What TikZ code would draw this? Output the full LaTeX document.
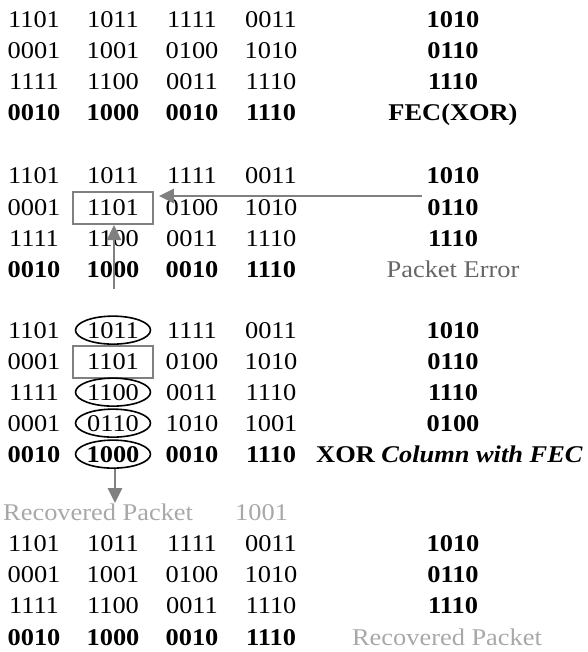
\documentclass[tikz,border=0pt]{standalone}
\usepackage{fontspec}
\setmainfont{Liberation Serif}[FakeStretch=1.1]
\usepackage{tikz}
\usetikzlibrary{shapes.geometric,arrows.meta}
\definecolor{boxgray}{RGB}{128,128,128}
\definecolor{errgray}{RGB}{102,102,102}
\definecolor{recgray}{RGB}{168,168,168}

\begin{document}
\begin{tikzpicture}[x=1pt, y=-1pt,
    every node/.style={font=\fontsize{24}{28}\selectfont, inner sep=0pt, anchor=base},
    errbox/.style={draw=boxgray, line width=1.8pt, minimum width=80pt,
      minimum height=32pt, anchor=center},
    oval/.style={ellipse, draw, line width=1.6pt, minimum width=75pt,
      minimum height=28pt, anchor=center},
    flow/.style={draw=boxgray, line width=2.6pt, -{Triangle[length=15pt, width=14pt]}}]

    \useasboundingbox (0,0) rectangle (587,652);

    %% block A: data words and FEC row
    \foreach \a/\b/\c/\d/\f [count=\r] in
      {1101/1011/1111/0011/1010, 0001/1001/0100/1010/0110, 1111/1100/0011/1110/1110}{
      \node (A\r-1) at (34,{28+31*(\r-1)}) {\a};
      \node (A\r-2) at (113,{28+31*(\r-1)}) {\b};
      \node (A\r-3) at (192,{28+31*(\r-1)}) {\c};
      \node (A\r-4) at (271,{28+31*(\r-1)}) {\d};
      \node (A\r-5) at (453,{28+31*(\r-1)}) {\textbf{\f}};
    }
    \node (A4-1) at (34,121) {\textbf{0010}};
    \node (A4-2) at (113,121) {\textbf{1000}};
    \node (A4-3) at (192,121) {\textbf{0010}};
    \node (A4-4) at (271,121) {\textbf{1110}};
    \node (A4-5) at (453,121) {\textbf{FEC(XOR)}};

    %% block B: packet error
    \foreach \a/\b/\c/\d/\f [count=\r] in
      {1101/1011/1111/0011/1010, 0001/1101/0100/1010/0110, 1111/1100/0011/1110/1110}{
      \node (B\r-1) at (34,{184+31*(\r-1)}) {\a};
      \node (B\r-2) at (113,{184+31*(\r-1)}) {\b};
      \node (B\r-3) at (192,{184+31*(\r-1)}) {\c};
      \node (B\r-4) at (271,{184+31*(\r-1)}) {\d};
      \node (B\r-5) at (453,{184+31*(\r-1)}) {\textbf{\f}};
    }
    \node (B4-1) at (34,277) {\textbf{0010}};
    \node (B4-2) at (113,277) {\textbf{1000}};
    \node (B4-3) at (192,277) {\textbf{0010}};
    \node (B4-4) at (271,277) {\textbf{1110}};
    \node[errgray] (B4-5) at (453,277) {Packet Error};

    \node[errbox] (errB) at ([yshift=-1pt]B2-2.center) {};
    \coordinate (errsrc) at (422,196);
    \coordinate (colsrc) at (114,289);
    \draw[flow] (errsrc) -- ([xshift=5pt]errB.east |- errsrc);
    \draw[flow] (colsrc) -- (colsrc |- errB.south);

    %% block C: XOR of the column
    \foreach \a/\b/\c/\d/\f [count=\r] in
      {1101/1011/1111/0011/1010, 0001/1101/0100/1010/0110,
       1111/1100/0011/1110/1110, 0001/0110/1010/1001/0100}{
      \node (C\r-1) at (34,{338+31*(\r-1)}) {\a};
      \node (C\r-2) at (113,{338+31*(\r-1)}) {\b};
      \node (C\r-3) at (192,{338+31*(\r-1)}) {\c};
      \node (C\r-4) at (271,{338+31*(\r-1)}) {\d};
      \node (C\r-5) at (453,{338+31*(\r-1)}) {\textbf{\f}};
    }
    \node (C5-1) at (34,462) {\textbf{0010}};
    \node (C5-2) at (113,462) {\textbf{1000}};
    \node (C5-3) at (192,462) {\textbf{0010}};
    \node (C5-4) at (271,462) {\textbf{1110}};
    \node[anchor=base west] (C5-5) at (316,462) {\textbf{XOR \textit{Column with FEC}}};

    \node[errbox] (errC) at ([yshift=-1pt]C2-2.center) {};
    \foreach \r in {1,3,4,5}
      \node[oval] (ov\r) at (C\r-2.center) {};

    \coordinate (recdst) at (115,503);
    \draw[flow] (ov5.south -| recdst) -- (recdst);

    \node[recgray, anchor=base west] (rec) at (3,520) {Recovered Packet};
    \node[recgray, anchor=base west] (recbits) at (235,520) {1001};

    %% block D: recovered data
    \foreach \a/\b/\c/\d/\f [count=\r] in
      {1101/1011/1111/0011/1010, 0001/1001/0100/1010/0110, 1111/1100/0011/1110/1110}{
      \node (D\r-1) at (34,{551+31*(\r-1)}) {\a};
      \node (D\r-2) at (113,{551+31*(\r-1)}) {\b};
      \node (D\r-3) at (192,{551+31*(\r-1)}) {\c};
      \node (D\r-4) at (271,{551+31*(\r-1)}) {\d};
      \node (D\r-5) at (453,{551+31*(\r-1)}) {\textbf{\f}};
    }
    \node (D4-1) at (34,645) {\textbf{0010}};
    \node (D4-2) at (113,645) {\textbf{1000}};
    \node (D4-3) at (192,645) {\textbf{0010}};
    \node (D4-4) at (271,645) {\textbf{1110}};
    \node[recgray] (D4-5) at (447,645) {Recovered Packet};

\end{tikzpicture}
\end{document}
